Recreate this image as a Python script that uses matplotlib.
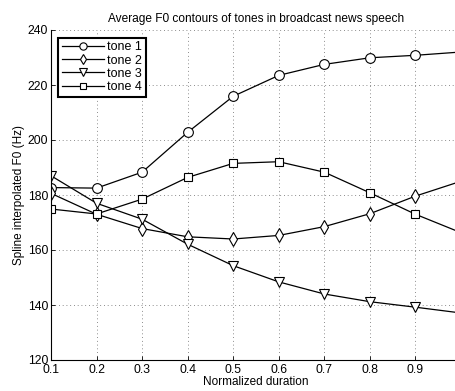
import matplotlib
matplotlib.use("Agg")
import matplotlib.pyplot as plt

plt.rcParams['font.family'] = ['Liberation Sans', 'DejaVu Sans']

x = [0.1, 0.2, 0.3, 0.4, 0.5, 0.6, 0.7, 0.8, 0.9, 1.0]
tone1 = [182.7, 182.5, 188.3, 202.8, 215.9, 223.5, 227.5, 229.9, 230.8, 232.0]
tone2 = [180.6, 173.0, 167.8, 164.8, 164.0, 165.3, 168.5, 173.2, 179.6, 185.0]
tone3 = [187.0, 177.0, 171.2, 162.1, 154.3, 148.4, 144.0, 141.2, 139.2, 137.1]
tone4 = [174.9, 173.1, 178.5, 186.4, 191.5, 192.1, 188.3, 180.8, 173.0, 166.3]
labels = ['tone 1', 'tone 2', 'tone 3', 'tone 4']
markers = ['o', 'd', 'v', 's']
xticks = [0.1, 0.2, 0.3, 0.4, 0.5, 0.6, 0.7, 0.8, 0.9]
yticks = [120, 140, 160, 180, 200, 220, 240]

W, H = 456, 391
fig = plt.figure(figsize=(W / 100, H / 100), dpi=100)
left, right, top, bottom = 51, 461, 30, 360
ax = fig.add_axes([left / W, (H - bottom) / H, (right - left) / W, (bottom - top) / H])

msizes = [7, 7, 7.5, 6]
for y, lab, m, ms in zip([tone1, tone2, tone3, tone4], labels, markers, msizes):
    ax.plot(x, y, color='black', lw=0.9, marker=m, ms=ms, mfc='white',
            mec='black', mew=0.8, label=lab, clip_on=True)

ax.set_xlim(0.1, 1.0)
ax.set_ylim(120, 240)
ax.set_xticks(xticks)
ax.set_yticks(yticks)
ax.set_xticklabels([f"{t:g}" for t in xticks], fontsize=8.8)
ax.set_yticklabels([str(t) for t in yticks], fontsize=8.8)
ax.tick_params(direction='in', length=3, width=0.6, pad=2)
ax.tick_params(axis='x', pad=3)
ax.grid(True, linestyle=(0, (1, 3.5)), color='#666666', lw=0.6)
ax.spines['top'].set_visible(False)
ax.spines['right'].set_visible(False)
ax.spines['left'].set_linewidth(0.8)
ax.spines['bottom'].set_linewidth(0.8)

ax.set_title('Average F0 contours of tones in broadcast news speech', fontsize=8.6, pad=6)
ax.set_xlabel('Normalized duration', fontsize=8.5, labelpad=0)
ax.set_ylabel('Spline interpolated F0 (Hz)', fontsize=8.5, labelpad=2)

leg = ax.legend(loc='upper left', fontsize=9, frameon=True, fancybox=False,
                edgecolor='black', framealpha=1, borderpad=0.3, labelspacing=0.1,
                handlelength=3.3, handletextpad=0.3, borderaxespad=0.6,
                markerscale=0.75)
leg.get_frame().set_linewidth(1.5)

fig.savefig('out.png', dpi=100)
